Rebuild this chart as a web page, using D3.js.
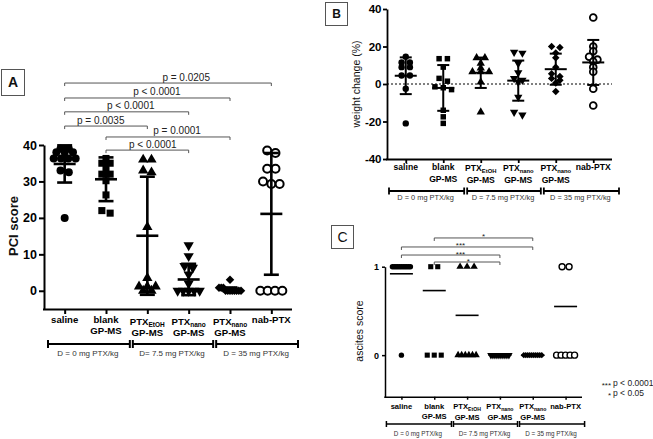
<!DOCTYPE html>
<html><head><meta charset="utf-8">
<script src="https://cdn.jsdelivr.net/npm/d3@7"></script>
<style>body{margin:0;background:#fff}svg{display:block}</style>
</head><body><svg id="c" width="653" height="439"></svg>
<script>
// ---------------- DATA ----------------
const catIds   = ["saline","blank","ptxEtOH","ptxNano75","ptxNano35","nabPTX"];
const catLine1 = ["saline","blank","PTX","PTX","PTX","nab-PTX"];
const catSub   = ["","","EtOH","nano","nano",""];
const catLine2 = ["","GP-MS","GP-MS","GP-MS","GP-MS",""];
const doseLabelsA = ["D = 0 mg PTX/kg","D= 7.5 mg PTX/kg","D = 35 mg PTX/kg"];
const doseLabelsB = ["D = 0 mg PTX/kg","D = 7.5 mg PTX/kg","D = 35 mg PTX/kg"];
const doseLabelsC = ["D = 0 mg PTX/kg","D= 7.5 mg PTX/kg","D = 35 mg PTX/kg"];

// Panel A: PCI score
const pciTicks = [0,10,20,30,40];
const pciValues = [
  [39,39,38,38,38,36.3,36.3,36.3,36.3,33,32.5,20],
  [36.3,35,35,33.3,32,32,30.2,26.3,22,21.3],
  [36,36,33,32.5,17.5,3.5,1.2,1.2,1.2,0,0],
  [12.5,9.5,6.8,6.3,4.5,2,0,0,0,0,0],
  [3,0.8,0.8,0.8,0,0,0,0,0,0,0,0],
  [38.5,37.8,33.5,33.5,30,29.3,29.3,0,0,0,0]
];
const pciMean = [34.8,30.6,15.1,3.1,0.4,21.1];
const pciSD   = [5.1,6.0,16.2,4.3,0.5,16.7];
const pciComparisons = [
  {a:0,b:5,label:"p = 0.0205",level:57.0},
  {a:0,b:4,label:"p < 0.0001",level:52.9},
  {a:0,b:3,label:"p < 0.0001",level:49.1},
  {a:0,b:2,label:"p = 0.0035",level:45.2},
  {a:1,b:4,label:"p = 0.0001",level:42.2},
  {a:1,b:3,label:"p < 0.0001",level:38.6}
];

// Panel B: weight change (%)
const wTicks = [-40,-20,0,20,40];
const wValues = [
  [14.5,11.5,11.5,9,9,4.5,4.5,-2.5,-21],
  [13.5,13.5,9,3,1.5,-1.5,-2,-3,-14,-17.5,-21],
  [14,14,11,8.5,6.5,6.5,6.5,1,-15],
  [17,16.5,11,6,3,2,1,-7,-15,-16.5],
  [20,19.5,16.5,14,9,5.5,4,3,2,0.5,-4],
  [35.5,20,17.5,14.5,13,12,9,6.5,-2.5,-11.5]
];
const wMean = [4.4,-2.1,6.0,1.8,7.9,11.5];
const wSD   = [9.8,12.2,8.1,10.7,8.3,12.0];

// Panel C: ascites score
const aTicks = [0,1];
const aValues = [
  [1,1,1,1,1,1,1,1,1,1,1,0],
  [1,1,0,0,0],
  [1,1,1,0,0,0,0,0,0],
  [0,0,0,0,0,0,0,0,0,0],
  [0,0,0,0,0,0,0,0,0,0],
  [1,1,0,0,0,0,0]
];
const aMean = [0.92,0.73,0.45,0,0,0.55];
const aComparisons = [
  {a:1,b:4,label:"*",level:1.325},
  {a:0,b:4,label:"***",level:1.223},
  {a:0,b:3,label:"***",level:1.132},
  {a:1,b:3,label:"*",level:1.053}
];
const legendStars = ["***","*"];
const legendText  = ["p < 0.0001","p < 0.05"];

// ---------------- DRAWING ----------------
const FONT = '"Liberation Sans", Arial, Helvetica, sans-serif';
const svg = d3.select("#c").attr("font-family", FONT);

function layoutRows(vals, y, sep, thresh, maxHalf){
  const pts = vals.map(v => ({v, py:y(v)})).sort((a,b)=>a.py-b.py);
  const rows=[]; let cur=null;
  pts.forEach(p=>{
    if(cur && Math.abs(p.py-cur[0].py) < thresh) cur.push(p);
    else { cur=[p]; rows.push(cur); }
  });
  rows.forEach(r=>{
    const n=r.length; let s=sep;
    if(n>1 && (n-1)*s/2 > maxHalf) s = 2*maxHalf/(n-1);
    r.forEach((p,i)=> p.dx=(i-(n-1)/2)*s);
  });
  return pts;
}

function marker(g, type, cx, cy, m){
  if(type===0){
    g.append("circle").attr("cx",cx).attr("cy",cy).attr("r",m.r).attr("fill","#000");
  } else if(type===5){
    g.append("circle").attr("cx",cx).attr("cy",cy).attr("r",m.or).attr("fill","#fff")
      .attr("stroke","#000").attr("stroke-width",m.ow);
  } else {
    let sym, size, rot=0;
    if(type===1){sym=d3.symbolSquare; size=m.sq;}
    if(type===2){sym=d3.symbolTriangle; size=m.tri;}
    if(type===3){sym=d3.symbolTriangle; size=m.tri; rot=180;}
    if(type===4){sym=d3.symbolSquare; size=m.dia; rot=45;}
    g.append("path").attr("d", d3.symbol().type(sym).size(size)())
      .attr("transform",`translate(${cx},${cy}) rotate(${rot})`).attr("fill","#000");
  }
}

function drawPanel(o){
  const g = svg.append("g");
  const x = d3.scalePoint().domain(catIds).range([o.x0,o.x1]).padding(0.5);
  const y = d3.scaleLinear().domain(o.domain).range([o.yB,o.yT]);

  if(o.zeroLine){
    g.append("line").attr("x1",o.x0).attr("x2",o.x1).attr("y1",y(0)).attr("y2",y(0))
      .attr("stroke","#000").attr("stroke-width",1).attr("stroke-dasharray","2,2");
  }

  catIds.forEach((c,i)=>{
    const pts = layoutRows(o.values[i], y, o.sep, o.thresh, o.maxHalf);
    pts.forEach(p=>marker(g, i, x(c)+p.dx, p.py, o.m));
  });
  catIds.forEach((c,i)=>{
    const cx=x(c), m=o.mean[i];
    const eg = g.append("g").attr("stroke","#000").attr("stroke-width",o.barW);
    eg.append("line").attr("x1",cx-o.meanW/2).attr("x2",cx+o.meanW/2).attr("y1",y(m)).attr("y2",y(m));
    if(o.sd){
      const s=o.sd[i];
      eg.append("line").attr("x1",cx).attr("x2",cx).attr("y1",y(m-s)).attr("y2",y(m+s));
      [m-s,m+s].forEach(v=>eg.append("line").attr("x1",cx-o.capW/2).attr("x2",cx+o.capW/2).attr("y1",y(v)).attr("y2",y(v)));
    }
  });

  const ya = g.append("g").attr("transform",`translate(${o.x0},0)`)
    .call(d3.axisLeft(y).tickValues(o.ticks).tickSize(o.tick).tickSizeOuter(0).tickPadding(o.tickPad).tickFormat(d=>String(d)));
  ya.select(".domain").attr("stroke","#000").attr("stroke-width",o.axisW);
  ya.selectAll(".tick line").attr("stroke","#000").attr("stroke-width",o.axisW);
  ya.selectAll(".tick text").attr("font-size",o.tickFont).attr("font-weight","bold").attr("fill","#000").attr("font-family",FONT);
  const xa = g.append("g").attr("transform",`translate(0,${o.yB})`)
    .call(d3.axisBottom(x).tickSize(o.tick).tickSizeOuter(0).tickFormat(""));
  xa.select(".domain").attr("stroke","#000").attr("stroke-width",o.axisW)
    .attr("d",`M${o.x0-o.axisW/2},0.5H${o.x1}`);
  xa.selectAll(".tick line").attr("stroke","#000").attr("stroke-width",o.axisW);

  g.append("text").attr("transform",`translate(${o.titleX},${o.titleY}) rotate(-90)`)
    .attr("text-anchor","middle").attr("font-size",o.titleFont).attr("font-weight",o.titleWeight)
    .attr("fill","#111").text(o.title);

  catIds.forEach((c,i)=>{
    const shift = catSub[i]?o.subShift:0;
    const t = g.append("text").attr("x",x(c)).attr("y",o.yB+o.lab1+shift).attr("text-anchor","middle")
      .attr("font-size",o.labFont).attr("font-weight","bold").attr("fill","#000");
    t.append("tspan").text(catLine1[i]);
    if(catSub[i]) t.append("tspan").attr("font-size",o.labFont*0.68).attr("dy",o.labFont*0.22).text(catSub[i]);
    if(catLine2[i]) g.append("text").attr("x",x(c)).attr("y",o.yB+o.lab2+shift).attr("text-anchor","middle")
      .attr("font-size",o.labFont).attr("font-weight","bold").attr("fill","#000").text(catLine2[i]);
  });

  const bx = d3.scaleLinear().domain([0,3]).range([o.x0+o.bOff0, o.x1+o.bOff1]);
  const by = o.yB+o.bY;
  o.doses.forEach((lab,i)=>{
    const a = bx(i)+(i>0?o.bGap:0), b = bx(i+1)-(i<2?o.bGap:0);
    const bg = g.append("g").attr("stroke","#000").attr("stroke-width",o.bW);
    bg.append("line").attr("x1",a).attr("x2",b).attr("y1",by).attr("y2",by);
    [a,b].forEach(v=>bg.append("line").attr("x1",v).attr("x2",v).attr("y1",by-o.bCap).attr("y2",by+o.bCap));
    g.append("text").attr("x",(a+b)/2-1).attr("y",o.yB+o.bText).attr("text-anchor","middle")
      .attr("font-size",o.doseFont).attr("fill","#333").text(lab);
  });

  if(o.comps){
    o.comps.forEach((cp,k)=>{
      const xa_=x(catIds[cp.a]), xb_=x(catIds[cp.b]), yy=y(cp.level);
      g.append("path").attr("d",`M${xa_},${yy+o.sigTick}V${yy}H${xb_}V${yy+o.sigTick}`)
        .attr("fill","none").attr("stroke","#555").attr("stroke-width",1);
      g.append("text").attr("x",xa_+(xb_-xa_)*o.sigFrac[k]).attr("y",yy+o.sigDy)
        .attr("text-anchor","middle").attr("font-size",o.sigFont).attr("fill","#222").text(cp.label);
    });
  }

  g.append("rect").attr("x",o.box[0]+0.5).attr("y",o.box[1]+0.5).attr("width",o.box[2]).attr("height",o.box[3])
    .attr("fill","none").attr("stroke","#555").attr("stroke-width",1);
  g.append("text").attr("x",o.box[0]+o.box[2]/2+0.5).attr("y",o.box[1]+o.box[3]/2+o.letterFont*0.36)
    .attr("text-anchor","middle").attr("font-size",o.letterFont).attr("font-weight",o.letterWeight).attr("fill","#111").text(o.letter);
  return {x,y,g};
}

drawPanel({
  x0:44,x1:292,yB:309,yT:145,domain:[-5,40],ticks:pciTicks,tick:5,tickPad:2,tickFont:12.5,axisW:2,
  values:pciValues,mean:pciMean,sd:pciSD,sep:8.3,thresh:3,maxHalf:11,
  m:{r:4,sq:50,tri:46,dia:36,or:4,ow:2},barW:2.6,meanW:22,capW:15,
  title:"PCI score",titleX:18,titleY:226,titleFont:13,titleWeight:"bold",
  labFont:9.6,lab1:14,lab2:25,subShift:1.5,
  doses:doseLabelsA,bOff0:4,bOff1:6,bGap:1.5,bY:35,bCap:4,bW:2,bText:47,doseFont:8,
  comps:pciComparisons,sigFrac:[0.588,0.558,0.533,0.436,0.573,0.566],sigTick:3,sigDy:-2.5,sigFont:10,
  box:[1,69,23,26],letter:"A",letterFont:14,letterWeight:"bold"
});

drawPanel({
  x0:387,x1:612,yB:159,yT:9,domain:[-40,40],ticks:wTicks,tick:4,tickPad:1.5,tickFont:11.5,axisW:1.8,
  values:wValues,mean:wMean,sd:wSD,sep:8.3,thresh:3,maxHalf:10,zeroLine:true,
  m:{r:3.2,sq:30,tri:30,dia:28,or:3.4,ow:1.8},barW:2,meanW:22,capW:12,
  title:"weight change (%)",titleX:360,titleY:84,titleFont:10.5,titleWeight:"normal",
  labFont:8.6,lab1:11.3,lab2:23.3,subShift:0.8,
  doses:doseLabelsB,bOff0:2,bOff1:7,bGap:1.5,bY:32,bCap:3.5,bW:1.8,bText:41.3,doseFont:7.4,
  box:[325,2,22,23],letter:"B",letterFont:12,letterWeight:"bold"
});

drawPanel({
  x0:385,x1:582,yB:396.7,yT:266.7,domain:[-0.47,1],ticks:aTicks,tick:3,tickPad:3,tickFont:9,axisW:1.5,
  values:aValues,mean:aMean,sd:null,sep:7,thresh:3,maxHalf:9,
  m:{r:2.7,sq:26,tri:24,dia:20,or:3,ow:1.4},barW:1.6,meanW:23,capW:0,
  title:"ascites score",titleX:363,titleY:331,titleFont:10.5,titleWeight:"normal",
  labFont:7.6,lab1:12,lab2:22.7,subShift:0.6,
  doses:doseLabelsC,bOff0:1.4,bOff1:2.6,bGap:1,bY:27.3,bCap:3,bW:1.5,bText:38.8,doseFont:6.3,
  comps:aComparisons,sigFrac:[0.5,0.45,0.6,0.52],sigTick:3,sigDy:1.5,sigFont:8,
  box:[331,225,22,23],letter:"C",letterFont:14,letterWeight:"normal"
});

legendStars.forEach((s,i)=>{
  svg.append("text").attr("x",611).attr("y",386+i*10+2).attr("text-anchor","end")
    .attr("font-size",8).attr("fill","#222").text(s);
  svg.append("text").attr("x",613).attr("y",386+i*10).attr("font-size",8.5).attr("fill","#222").text(legendText[i]);
});
</script>
</body></html>
